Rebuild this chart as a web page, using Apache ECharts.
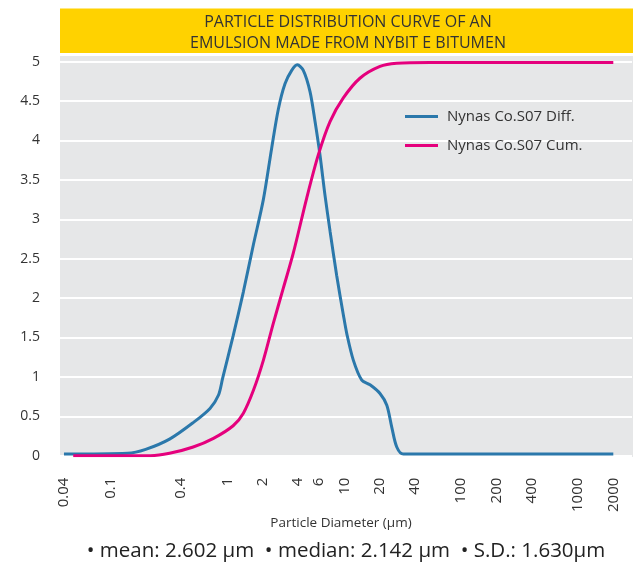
<!DOCTYPE html>
<html>
<head>
<meta charset="utf-8">
<script src="https://cdn.jsdelivr.net/npm/echarts@6/dist/echarts.min.js"></script>
<style>html,body{margin:0;padding:0;background:#fff}#c{width:635px;height:567px}</style>
</head>
<body>
<div id="c"></div>
<script>
const titleLines = ['PARTICLE DISTRIBUTION CURVE OF AN', 'EMULSION MADE FROM NYBIT E BITUMEN'];
const seriesNames = ['Nynas Co.S07 Diff.', 'Nynas Co.S07 Cum.'];
const xTickValues = [0.04, 0.1, 0.4, 1, 2, 4, 6, 10, 20, 40, 100, 200, 400, 1000, 2000];
const yTickValues = [0, 0.5, 1, 1.5, 2, 2.5, 3, 3.5, 4, 4.5, 5];
const xAxisName = 'Particle Diameter (µm)';
const statsText = '• mean: 2.602 µm  • median: 2.142 µm  • S.D.: 1.630µm';

const diffDiameter = [0.04, 0.14, 0.2, 0.32, 0.51, 0.71, 0.84, 0.91, 1.12, 1.37, 1.67, 2.03, 2.39, 2.73, 3.11, 3.55, 3.96, 4.46, 5.09, 5.62, 6.19, 6.83, 7.57, 8.6, 9.81, 10.5, 11.96, 14.1, 16.6, 20.2, 23.1, 25.4, 28.1, 32, 2000];
const diffValues = [0.02, 0.03, 0.08, 0.21, 0.42, 0.6, 0.77, 0.98, 1.52, 2.08, 2.68, 3.25, 3.9, 4.4, 4.72, 4.89, 4.96, 4.89, 4.62, 4.24, 3.82, 3.31, 2.84, 2.29, 1.79, 1.55, 1.21, 0.96, 0.90, 0.79, 0.64, 0.37, 0.11, 0.02, 0.02];

const cumDiameter = [0.048, 0.22, 0.32, 0.51, 0.76, 1.12, 1.37, 1.67, 2.03, 2.47, 3.0, 3.66, 4.77, 6.0, 7.55, 9.81, 13.6, 20.2, 28, 54, 2000];
const cumValues = [0, 0, 0.03, 0.11, 0.22, 0.38, 0.54, 0.83, 1.21, 1.68, 2.12, 2.57, 3.27, 3.82, 4.24, 4.54, 4.79, 4.94, 4.98, 4.99, 4.99];

const pairs = (xs, ys) => xs.map((x, i) => [x, ys[i]]);

const chart = echarts.init(document.getElementById('c'));
const FONT = 'Open Sans';
chart.setOption({
  animation: false,
  textStyle: { fontFamily: FONT },
  grid: { left: 60, right: 3, top: 61.7, bottom: 111.3, containLabel: false },
  xAxis: {
    type: 'log',
    min: 0.037,
    max: 2890,
    axisLine: { show: false },
    axisTick: { show: false },
    splitLine: { show: false },
    minorSplitLine: { show: false },
    axisLabel: {
      customValues: xTickValues,
      rotate: 90,
      margin: 22,
      fontSize: 15,
      color: '#333',
      fontFamily: FONT,
      formatter: v => String(v)
    }
  },
  yAxis: {
    type: 'value',
    min: 0,
    max: 5,
    interval: 0.5,
    axisLine: { show: false },
    axisTick: { show: false },
    axisLabel: { fontSize: 14, color: '#333', margin: 20, fontFamily: FONT },
    splitLine: { show: true, lineStyle: { color: '#ffffff', width: 2 } }
  },
  legend: {
    orient: 'vertical',
    left: 400,
    top: 104,
    itemWidth: 33,
    itemHeight: 3,
    itemGap: 14,
    icon: 'rect',
    textStyle: { fontSize: 15, color: '#333', fontFamily: FONT, padding: [0, 0, 0, 4] },
    data: seriesNames
  },
  graphic: [
    { type: 'rect', z: -10, silent: true, shape: { x: 60, y: 56, width: 573, height: 401 }, style: { fill: '#e6e7e8' } },
    { type: 'rect', z: 5, silent: true, shape: { x: 60, y: 8.5, width: 573, height: 44.5 }, style: { fill: '#ffd200' } },
    { type: 'text', z: 6, silent: true, x: 348, y: 22.5, style: { text: titleLines[0], fill: '#333', font: '16px "Open Sans"', textAlign: 'center', textVerticalAlign: 'middle' } },
    { type: 'text', z: 6, silent: true, x: 348, y: 43, style: { text: titleLines[1], fill: '#333', font: '16px "Open Sans"', textAlign: 'center', textVerticalAlign: 'middle' } },
    { type: 'text', z: 6, silent: true, x: 341, y: 523, style: { text: xAxisName, fill: '#333', font: '13.5px "Open Sans"', textAlign: 'center', textVerticalAlign: 'middle' } },
    { type: 'text', z: 6, silent: true, x: 346, y: 551, style: { text: statsText, fill: '#222', font: '20.5px "Open Sans"', textAlign: 'center', textVerticalAlign: 'middle' } }
  ],
  series: [
    {
      name: seriesNames[0], type: 'line', data: pairs(diffDiameter, diffValues),
      showSymbol: false, smooth: 0.3, lineStyle: { color: '#2b78ab', width: 3 }, itemStyle: { color: '#2b78ab' }
    },
    {
      name: seriesNames[1], type: 'line', data: pairs(cumDiameter, cumValues),
      showSymbol: false, smooth: 0.3, lineStyle: { color: '#e5007d', width: 3 }, itemStyle: { color: '#e5007d' }
    }
  ]
});
</script>
</body>
</html>
